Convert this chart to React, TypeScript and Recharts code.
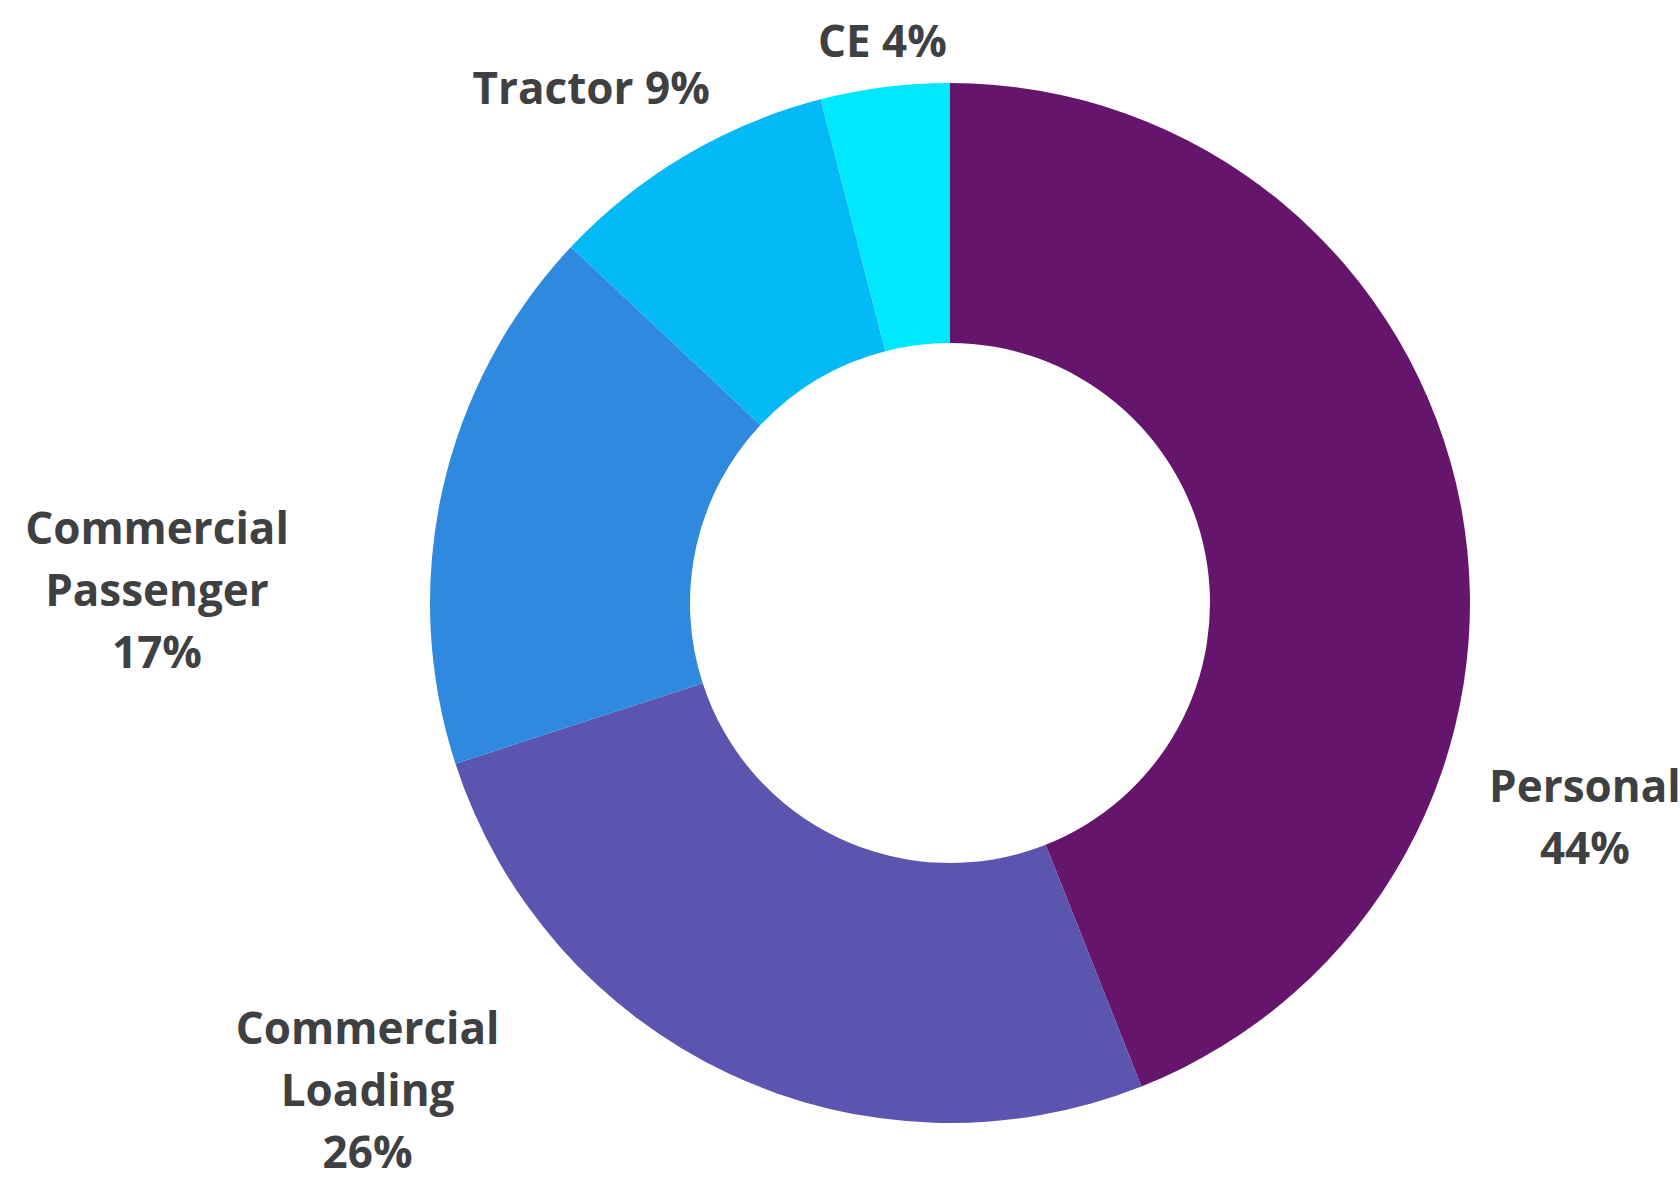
import { PieChart, Pie, Cell } from "recharts"

const segments = ["Personal", "Commercial Loading", "Commercial Passenger", "Tractor", "CE"]
const shares = [44, 26, 17, 9, 4]
const colors = ["#66156d", "#5b55b0", "#2f89df", "#03baf6", "#00e8fe"]

// where each label sits, as a fraction of the outer radius from the centre,
// and whether the value goes on its own line
const labelLayout = [
  { fx: 1.221, fy: 0.41, stacked: true },
  { fx: -1.12, fy: 0.935, stacked: true },
  { fx: -1.525, fy: -0.027, stacked: true },
  { fx: -0.69, fy: -0.992, stacked: false },
  { fx: -0.13, fy: -1.083, stacked: false },
]

const data = segments.map((name, i) => ({ name, value: shares[i] }))

const LINE = 62

function renderLabel(props: any) {
  const { cx, cy, outerRadius, index } = props
  const item = data[index]
  const layout = labelLayout[index]
  const lines = layout.stacked
    ? [...item.name.split(" "), `${item.value}%`]
    : [`${item.name} ${item.value}%`]
  const x = cx + outerRadius * layout.fx
  const y = cy + outerRadius * layout.fy - ((lines.length - 1) * LINE) / 2
  return (
    <text
      key={`label-${index}`}
      x={x}
      y={y}
      textAnchor="middle"
      dominantBaseline="central"
      fill="#3f4042"
      fontFamily="'Open Sans', sans-serif"
      fontWeight={700}
      fontSize={44}
    >
      {lines.map((line, i) => (
        <tspan key={i} x={x} y={y + i * LINE}>
          {line}
        </tspan>
      ))}
    </text>
  )
}

export default function App() {
  return (
    <div style={{ position: "absolute", left: 0, top: 0, width: 1680, height: 1187, background: "#fff" }}>
      <PieChart width={1680} height={1187}>
        <Pie
          data={data}
          dataKey="value"
          nameKey="name"
          cx={945}
          cy={598}
          innerRadius={260}
          outerRadius={520}
          startAngle={90}
          endAngle={-270}
          stroke="none"
          label={renderLabel}
          labelLine={false}
          isAnimationActive={false}
        >
          {data.map((entry, index) => (
            <Cell key={`cell-${index}`} fill={colors[index]} />
          ))}
        </Pie>
      </PieChart>
    </div>
  )
}
